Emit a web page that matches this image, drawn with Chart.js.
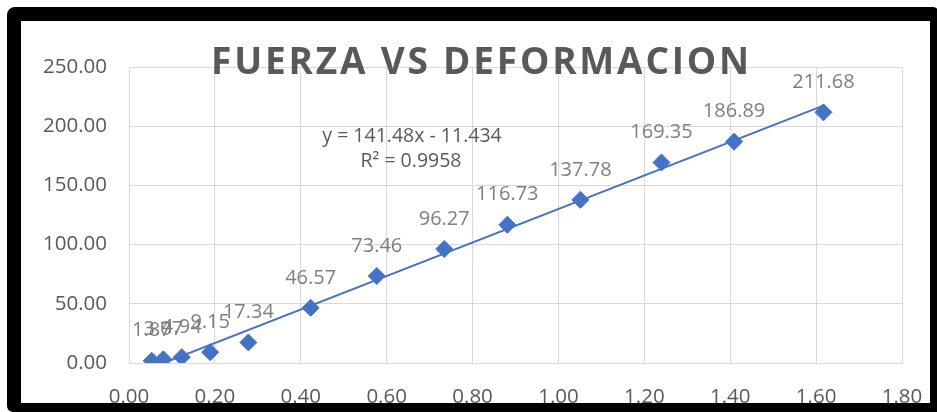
<!DOCTYPE html>
<html>
<head>
<meta charset="utf-8">
<script src="https://cdn.jsdelivr.net/npm/chart.js@4"></script>
<style>
  html, body { margin: 0; padding: 0; background: #ffffff; }
  #wrap { position: relative; width: 937px; height: 412px; overflow: hidden; }
  #chart { position: absolute; left: 0; top: 0; }
  #frame {
    position: absolute; left: 7px; top: 7px; width: 932px; height: 405px;
    box-sizing: border-box; border-style: solid; border-color: #000;
    border-width: 14px 9px 9px 14px; border-radius: 8px 6px 0 6px;
    pointer-events: none;
  }
  #title {
    position: absolute; left: 0; width: 963px; top: 41px; text-align: center;
    font-family: "Open Sans", sans-serif; font-weight: 700; font-size: 37px;
    line-height: 37px; letter-spacing: 2.8px; color: #595959; white-space: nowrap;
  }
  .eq {
    position: absolute; width: 300px; text-align: center;
    font-family: "Open Sans", sans-serif; font-size: 19.5px; line-height: 24px;
    color: #595959; white-space: nowrap;
  }
</style>
</head>
<body>
<div id="wrap">
  <canvas id="chart" width="937" height="412"></canvas>
  <div id="title">FUERZA VS DEFORMACION</div>
  <div class="eq" id="eq1" style="left:262px; top:123px;">y = 141.48x - 11.434</div>
  <div class="eq" id="eq2" style="left:261px; top:148px;">R² = 0.9958</div>
  <div id="frame"></div>
</div>
<script>
// ---- data ----
const deformacion = [0.053, 0.080, 0.123, 0.189, 0.278, 0.423, 0.577, 0.734, 0.881, 1.051, 1.240, 1.409, 1.617];
const fuerza      = [1.87, 3.07, 4.94, 9.15, 17.34, 46.57, 73.46, 96.27, 116.73, 137.78, 169.35, 186.89, 211.68];
const trendSlope = 141.48;
const trendIntercept = -11.434;
const xTicks = [0.00, 0.20, 0.40, 0.60, 0.80, 1.00, 1.20, 1.40, 1.60, 1.80];
const yTicks = [0.00, 50.00, 100.00, 150.00, 200.00, 250.00];

const points = deformacion.map((x, i) => ({ x: x, y: fuerza[i] }));
const xFirst = deformacion[0], xLast = deformacion[deformacion.length - 1];
const trendData = [
  { x: xFirst, y: trendSlope * xFirst + trendIntercept },
  { x: xLast,  y: trendSlope * xLast + trendIntercept }
];

const gridColor = '#d9d9d9';
const blue = '#4472c4';

const dataLabels = {
  id: 'dataLabels',
  afterDatasetsDraw(chart) {
    const meta = chart.getDatasetMeta(0);
    const ctx = chart.ctx;
    ctx.save();
    ctx.font = '20px "Open Sans", sans-serif';
    ctx.fillStyle = '#7f7f7f';
    ctx.textAlign = 'center';
    ctx.textBaseline = 'middle';
    meta.data.forEach((el, i) => {
      ctx.fillText(fuerza[i].toFixed(2), el.x, el.y - 30);
    });
    ctx.restore();
  }
};

new Chart(document.getElementById('chart'), {
  type: 'scatter',
  data: {
    datasets: [
      {
        label: 'Fuerza',
        data: points,
        pointStyle: 'rectRot',
        pointRadius: 8.5,
        pointHoverRadius: 8.5,
        backgroundColor: blue,
        borderColor: blue,
        borderWidth: 1,
        order: 2
      },
      {
        label: 'Lineal',
        type: 'line',
        data: trendData,
        showLine: true,
        pointRadius: 0,
        borderColor: blue,
        borderWidth: 2,
        fill: false,
        order: 1
      }
    ]
  },
  options: {
    responsive: false,
    animation: false,
    events: [],
    layout: { padding: { left: 0, right: 35, top: 67, bottom: 0 } },
    plugins: { legend: { display: false }, title: { display: false }, tooltip: { enabled: false } },
    scales: {
      x: {
        type: 'linear',
        min: xTicks[0], max: xTicks[xTicks.length - 1],
        afterBuildTicks(scale) { scale.ticks = xTicks.map(v => ({ value: v })); },
        afterFit(scale) { scale.height = 49; scale.paddingLeft = 0; scale.paddingRight = 0; },
        grid: { color: gridColor, lineWidth: 1, drawTicks: false },
        border: { display: true, color: gridColor },
        ticks: {
          padding: 22,
          color: '#595959',
          font: { family: '"Open Sans", sans-serif', size: 20.5 },
          callback: v => Number(v).toFixed(2),
          maxRotation: 0, autoSkip: false
        }
      },
      y: {
        type: 'linear',
        min: yTicks[0], max: yTicks[yTicks.length - 1],
        afterBuildTicks(scale) { scale.ticks = yTicks.map(v => ({ value: v })); },
        afterFit(scale) { scale.width = 129; scale.paddingTop = 0; scale.paddingBottom = 0; },
        grid: { color: gridColor, lineWidth: 1, drawTicks: false },
        border: { display: true, color: gridColor },
        ticks: {
          padding: 22,
          color: '#595959',
          font: { family: '"Open Sans", sans-serif', size: 20.5 },
          callback: v => Number(v).toFixed(2),
          autoSkip: false
        }
      }
    }
  },
  plugins: [dataLabels]
});
</script>
</body>
</html>
